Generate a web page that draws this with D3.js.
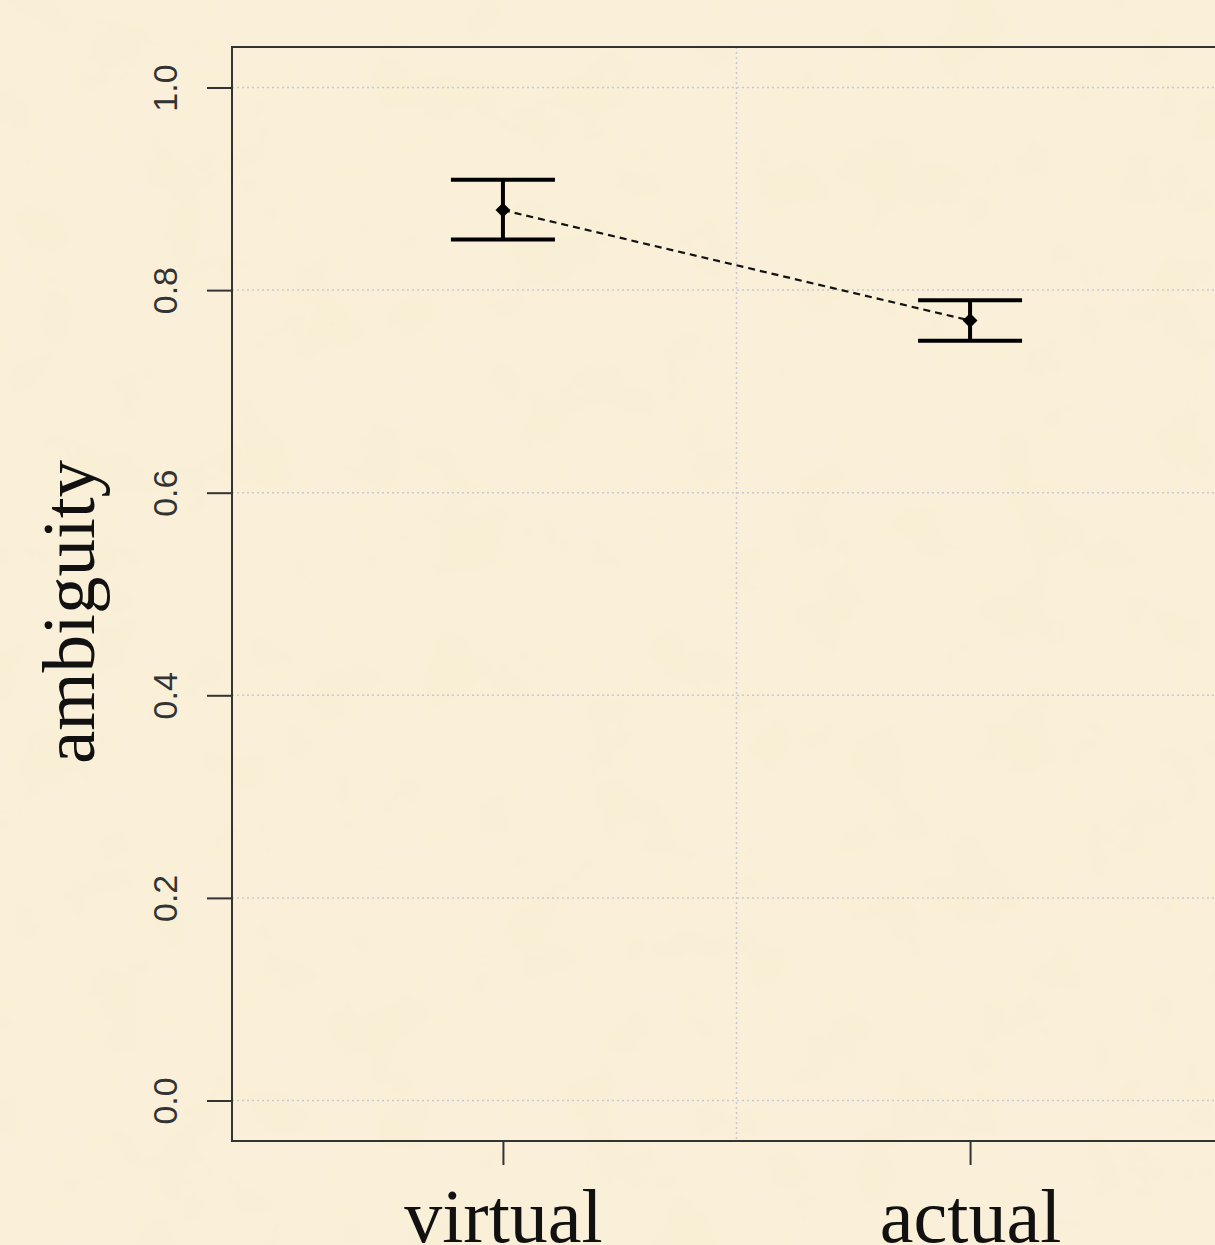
<!DOCTYPE html>
<html>
<head>
<meta charset="utf-8">
<script src="https://cdn.jsdelivr.net/npm/d3@7"></script>
<style>
  html, body { margin: 0; padding: 0; background: #f8eed7; }
  #chart { width: 1215px; height: 1245px; overflow: hidden; }
</style>
</head>
<body>
<div id="chart"></div>
<script>
// данные
const conditions = ['virtual', 'actual'];
const means = [0.879, 0.770];
const upper = [0.909, 0.790];
const lower = [0.850, 0.750];
const yTicks = [0, 0.2, 0.4, 0.6, 0.8, 1.0];

const W = 1215, H = 1245;
const svg = d3.select('#chart').append('svg')
    .attr('width', W)
    .attr('height', H);

// фон "пергамент"
const defs = svg.append('defs');
const f = defs.append('filter').attr('id', 'paper')
    .attr('x', 0).attr('y', 0).attr('width', '100%').attr('height', '100%');
f.append('feTurbulence')
    .attr('type', 'fractalNoise')
    .attr('baseFrequency', 0.014)
    .attr('numOctaves', 4)
    .attr('seed', 7);
f.append('feColorMatrix')
    .attr('type', 'matrix')
    .attr('values', '0 0 0 0 0.94  0 0 0 0 0.85  0 0 0 0 0.62  0 0 0 1.1 -0.42');

svg.append('rect').attr('width', W).attr('height', H).attr('fill', '#faf0da');
svg.append('rect').attr('width', W).attr('height', H).attr('filter', 'url(#paper)');

// шкалы
const x = d3.scaleLinear().domain([0.42, 2.58]).range([232, 1241]);
const y = d3.scaleLinear().domain([-0.04, 1.04]).range([1141, 47]);

// сетка
const grid = svg.append('g')
    .attr('stroke', '#c6c9d2')
    .attr('stroke-width', 1.5)
    .attr('stroke-dasharray', '2,3');
grid.selectAll('line.h')
    .data(yTicks)
    .enter().append('line')
    .attr('x1', x(0.42)).attr('x2', x(2.58))
    .attr('y1', d => y(d)).attr('y2', d => y(d));
grid.append('line')
    .attr('x1', x(1.5)).attr('x2', x(1.5))
    .attr('y1', y(1.04)).attr('y2', y(-0.04));

// ось Y
const yAxis = svg.append('g')
    .attr('transform', `translate(${x(0.42)},0)`)
    .call(d3.axisLeft(y).tickValues(yTicks).tickSize(25).tickFormat(d3.format('.1f')));
yAxis.select('.domain').remove();
yAxis.selectAll('.tick line').attr('stroke', '#333').attr('stroke-width', 2);
yAxis.selectAll('.tick text')
    .attr('x', 0).attr('dy', 0)
    .attr('transform', 'translate(-64,0) rotate(-90)')
    .attr('text-anchor', 'middle')
    .attr('dominant-baseline', 'middle')
    .attr('fill', '#333')
    .attr('font-family', 'Liberation Sans, Arial, sans-serif')
    .attr('font-size', 34);

// ось X
const xAxis = svg.append('g')
    .attr('transform', `translate(0,${y(-0.04)})`)
    .call(d3.axisBottom(x).tickValues([1, 2]).tickSize(24).tickFormat((d, i) => conditions[i]));
xAxis.select('.domain').remove();
xAxis.selectAll('.tick line').attr('stroke', '#333').attr('stroke-width', 2);
xAxis.selectAll('.tick text')
    .attr('y', 101).attr('dy', 0)
    .attr('fill', '#111')
    .attr('font-family', 'Liberation Serif, Times New Roman, serif')
    .attr('font-size', 76);

// рамка
svg.append('path')
    .attr('d', `M${x(2.58)},${y(1.04)}H${x(0.42)}V${y(-0.04)}H${x(2.58)}`)
    .attr('fill', 'none')
    .attr('stroke', '#333')
    .attr('stroke-width', 2);

// подпись оси Y
svg.append('text')
    .attr('transform', `translate(94,612) rotate(-90)`)
    .attr('text-anchor', 'middle')
    .attr('fill', '#111')
    .attr('font-family', 'Liberation Serif, Times New Roman, serif')
    .attr('font-size', 75)
    .text('ambiguity');

// пунктирная линия между средними
svg.append('path')
    .datum(means)
    .attr('d', d3.line().x((d, i) => x(i + 1)).y(d => y(d)))
    .attr('fill', 'none')
    .attr('stroke', '#111')
    .attr('stroke-width', 2.2)
    .attr('stroke-dasharray', '7,5');

// планки погрешностей
const capW = 52;
const bars = svg.append('g')
    .attr('stroke', '#000')
    .attr('stroke-width', 4);
conditions.forEach((c, i) => {
    bars.append('line')
        .attr('x1', x(i + 1)).attr('x2', x(i + 1))
        .attr('y1', y(upper[i])).attr('y2', y(lower[i]));
    bars.append('line')
        .attr('x1', x(i + 1) - capW).attr('x2', x(i + 1) + capW)
        .attr('y1', y(upper[i])).attr('y2', y(upper[i]));
    bars.append('line')
        .attr('x1', x(i + 1) - capW).attr('x2', x(i + 1) + capW)
        .attr('y1', y(lower[i])).attr('y2', y(lower[i]));
});

// точки средних
svg.append('g')
    .selectAll('path')
    .data(means)
    .enter().append('path')
    .attr('transform', (d, i) => `translate(${x(i + 1)},${y(d)})`)
    .attr('d', d3.symbol(d3.symbolDiamond2, 140))
    .attr('fill', '#000');
</script>
</body>
</html>
